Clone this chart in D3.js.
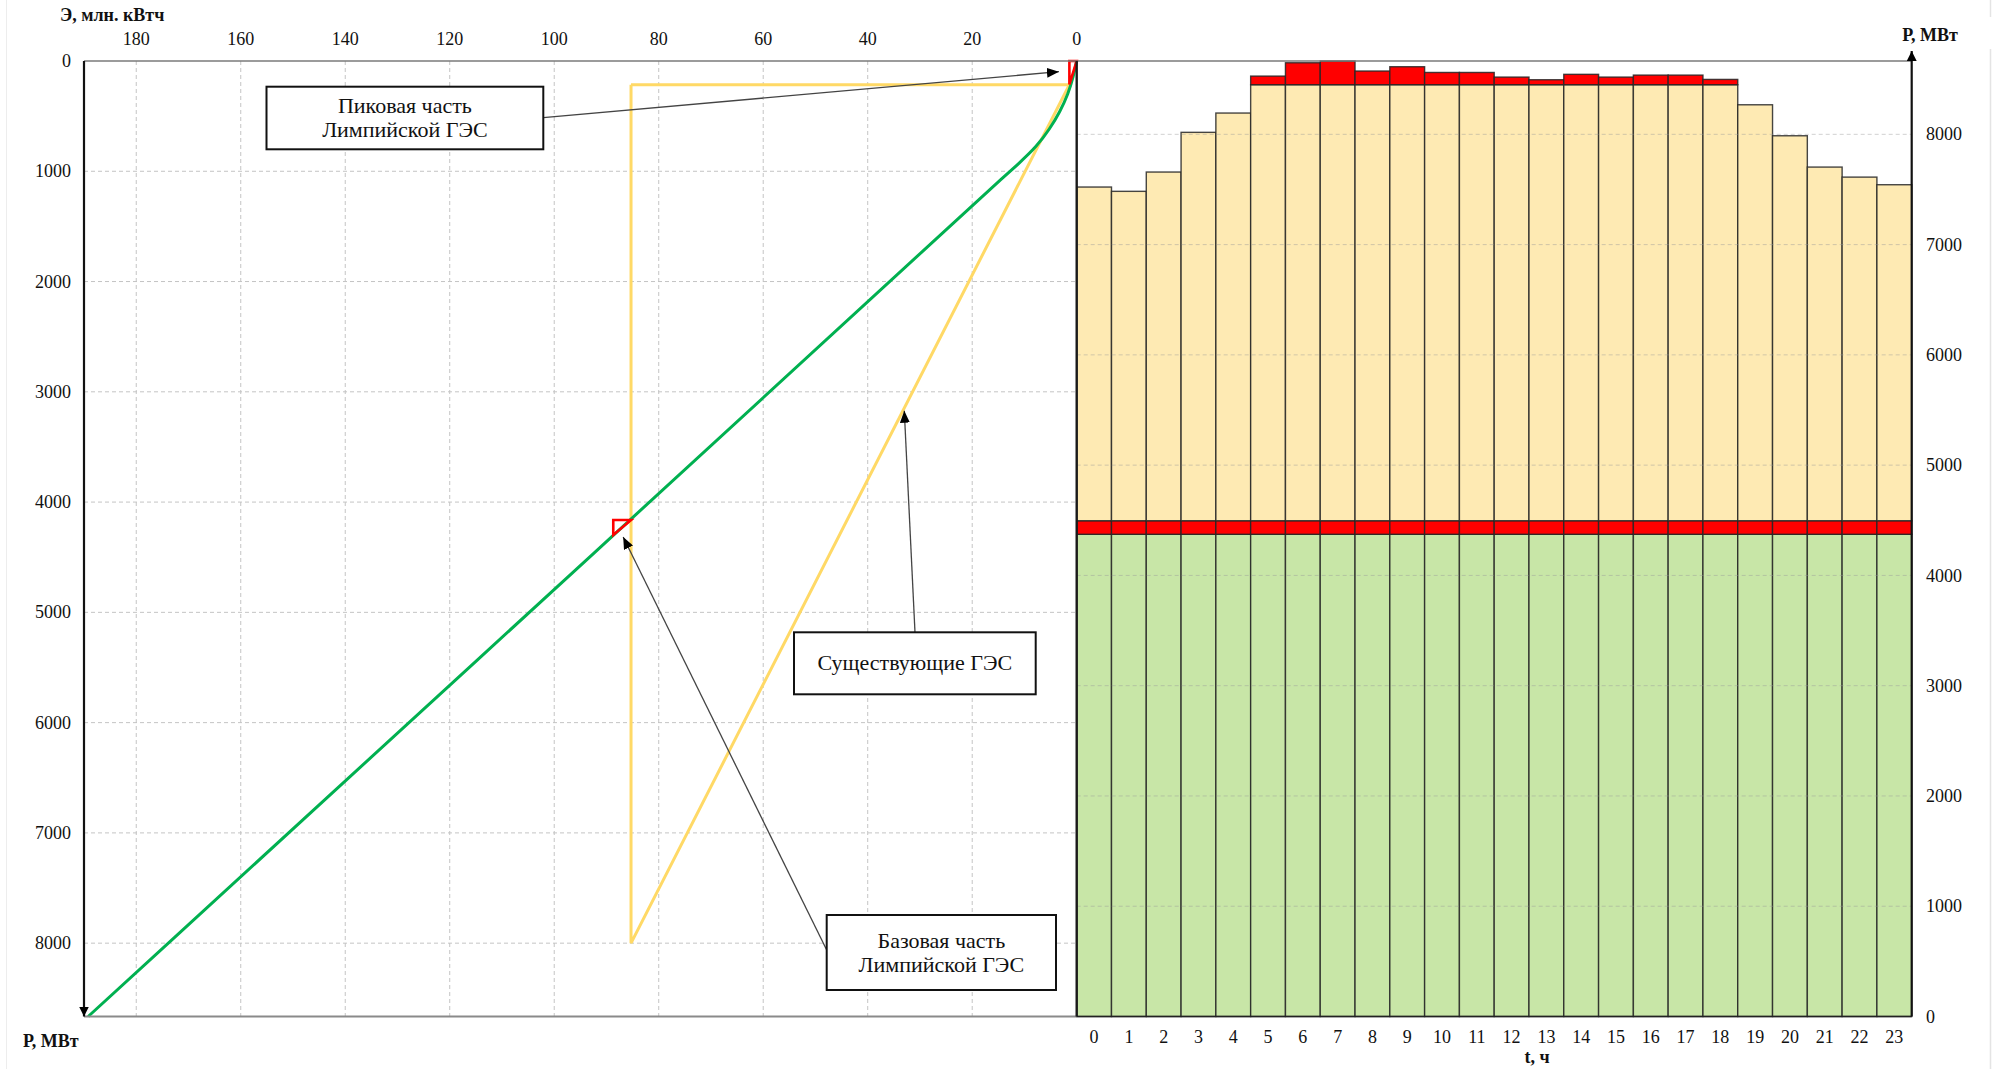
<!DOCTYPE html>
<html>
<head>
<meta charset="utf-8">
<script src="https://cdn.jsdelivr.net/npm/d3@7"></script>
<style>
  html, body { margin: 0; padding: 0; background: #fff; }
  svg { display: block; font-family: "Liberation Serif", "Times New Roman", serif; }
</style>
</head>
<body>
<svg id="chart" width="2004" height="1069"></svg>
<script>
// ---- Data ---------------------------------------------------------------
// Hours of the day
const hours = [0, 1, 2, 3, 4, 5, 6, 7, 8, 9, 10, 11, 12, 13, 14, 15, 16, 17, 18, 19, 20, 21, 22, 23];
// Hourly load of the system, МВт
const load = [7522, 7483, 7658, 8018, 8193, 8528, 8649, 8664, 8574, 8613, 8561, 8561,
              8519, 8495, 8544, 8519, 8537, 8537, 8498, 8268, 7987, 7703, 7612, 7543];
// Load zone boundaries, МВт
const thermalTop = 4373;   // upper edge of the green (other plants) zone
const baseTop = 4496;      // upper edge of the base part of Лимпийская ГЭС
const peakCap = 8450;      // level above which Лимпийская ГЭС covers the peak
const pMax = 8665;         // top of the power scale

// Axis ticks
const energyTicks = [180, 160, 140, 120, 100, 80, 60, 40, 20, 0];
const powerTicks = [0, 1000, 2000, 3000, 4000, 5000, 6000, 7000, 8000];

// Integral load curve: [Э, млн. кВтч ; P, МВт from the top]
const iknCurve = [[0, 0], [0.65, 142], [1.6, 294], [3.2, 460], [5.1, 612], [7.7, 779],
                  [11.1, 930], [14.3, 1066], [18.9, 1264], [86.8, 4221], [189.2, 8665]];
// Existing hydro plants working zone
const existingHPP = [[85.3, 215], [1.4, 215], [85.3, 8000], [85.3, 215]];
// Peak and base parts of Лимпийская ГЭС on the integral curve
const peakTriangle = [[0, 0], [1.4, 0], [1.4, 213], [0, 0]];
const baseTriangle = [[85.3, 4162], [88.7, 4162], [88.7, 4298], [85.3, 4162]];

// ---- Layout -------------------------------------------------------------
const plotL = 84, plotMid = 1076.7, plotR = 1911.7, plotT = 61, plotB = 1016.5;

const colors = {
  green: "#c8e6a7", yellow: "#feeab3", red: "#ff0000",
  curve: "#00b050", hpp: "#ffd966", grid: "#c4c4c4"
};

const svg = d3.select("#chart");

const xE = d3.scaleLinear().domain([190, 0]).range([plotL, plotMid]);
const yDown = d3.scaleLinear().domain([0, pMax]).range([plotT, plotB]);
const yUp = d3.scaleLinear().domain([0, pMax]).range([plotB, plotT]);
const xH = d3.scaleBand().domain(hours).range([plotMid, plotR]).padding(0);

// markers
const defs = svg.append("defs");
defs.append("marker").attr("id", "tip")
  .attr("markerUnits", "userSpaceOnUse")
  .attr("viewBox", "0 0 12 10").attr("refX", 12).attr("refY", 5)
  .attr("markerWidth", 12).attr("markerHeight", 10).attr("orient", "auto")
  .append("path").attr("d", "M0,0 L12,5 L0,10 Z").attr("fill", "#000");
defs.append("marker").attr("id", "axisTip")
  .attr("markerUnits", "userSpaceOnUse")
  .attr("viewBox", "0 0 10 10").attr("refX", 10).attr("refY", 5)
  .attr("markerWidth", 10).attr("markerHeight", 10).attr("orient", "auto")
  .append("path").attr("d", "M0,0 L10,5 L0,10 Z").attr("fill", "#000");

// faint frame edges
svg.append("line").attr("x1", 6.5).attr("x2", 6.5).attr("y1", 0).attr("y2", 1069)
  .attr("stroke", "#ededed").attr("stroke-width", 1);
svg.append("line").attr("x1", 1990.5).attr("x2", 1990.5).attr("y1", 0).attr("y2", 17)
  .attr("stroke", "#e4e4e4").attr("stroke-width", 1.5);
svg.append("line").attr("x1", 1990.5).attr("x2", 1990.5).attr("y1", 49).attr("y2", 1069)
  .attr("stroke", "#e4e4e4").attr("stroke-width", 1.5);

// ---- Left panel grid ----------------------------------------------------
const gridL = svg.append("g").attr("stroke", colors.grid).attr("stroke-width", 1)
  .attr("stroke-dasharray", "4,3");
gridL.selectAll("line.v").data(energyTicks.filter(d => d > 0)).join("line")
  .attr("class", "v")
  .attr("x1", d => xE(d)).attr("x2", d => xE(d))
  .attr("y1", plotT).attr("y2", plotB);
gridL.selectAll("line.h").data(powerTicks.filter(d => d > 0)).join("line")
  .attr("class", "h")
  .attr("x1", plotL).attr("x2", plotMid)
  .attr("y1", d => yDown(d)).attr("y2", d => yDown(d));

// ---- Right panel: stacked hourly bars -----------------------------------
const segments = hours.flatMap((h, i) => {
  const v = load[i];
  const s = [
    { h, y0: 0, y1: thermalTop, fill: colors.green },
    { h, y0: thermalTop, y1: baseTop, fill: colors.red },
    { h, y0: baseTop, y1: Math.min(v, peakCap), fill: colors.yellow }
  ];
  if (v > peakCap) s.push({ h, y0: peakCap, y1: v, fill: colors.red });
  return s;
});
svg.append("g").selectAll("rect").data(segments).join("rect")
  .attr("x", d => xH(d.h))
  .attr("width", xH.bandwidth())
  .attr("y", d => yUp(d.y1))
  .attr("height", d => yUp(d.y0) - yUp(d.y1))
  .attr("fill", d => d.fill)
  .attr("stroke", "#262626").attr("stroke-width", 1.4).attr("stroke-opacity", 0.85);

// right grid drawn over the bars
svg.append("g").attr("stroke", "#9a9a9a").attr("stroke-opacity", 0.45)
  .attr("stroke-width", 1).attr("stroke-dasharray", "4,3")
  .selectAll("line").data(powerTicks.filter(d => d > 0)).join("line")
  .attr("x1", plotMid).attr("x2", plotR)
  .attr("y1", d => yUp(d)).attr("y2", d => yUp(d));

// ---- Left panel curves --------------------------------------------------
const lineE = d3.line().x(d => xE(d[0])).y(d => yDown(d[1]));
const curveE = d3.line().x(d => xE(d[0])).y(d => yDown(d[1])).curve(d3.curveBasis);

svg.append("path").datum(existingHPP)
  .attr("d", lineE).attr("fill", "none")
  .attr("stroke", colors.hpp).attr("stroke-width", 3).attr("stroke-linejoin", "miter");

svg.append("path").datum(iknCurve)
  .attr("d", curveE).attr("fill", "none")
  .attr("stroke", colors.curve).attr("stroke-width", 3);

[peakTriangle, baseTriangle].forEach(tri => {
  svg.append("path").datum(tri)
    .attr("d", d => lineE(d) + "Z").attr("fill", "none")
    .attr("stroke", colors.red).attr("stroke-width", 2.6).attr("stroke-linejoin", "miter");
});

// ---- Axes frame ---------------------------------------------------------
svg.append("line").attr("x1", plotL).attr("x2", plotR).attr("y1", plotT).attr("y2", plotT)
  .attr("stroke", "#7a7a7a").attr("stroke-width", 1.6);
svg.append("line").attr("x1", plotL).attr("x2", plotMid).attr("y1", plotB).attr("y2", plotB)
  .attr("stroke", "#8a8a8a").attr("stroke-width", 2);
svg.append("line").attr("x1", plotMid).attr("x2", plotR).attr("y1", plotB).attr("y2", plotB)
  .attr("stroke", "#222").attr("stroke-width", 1.6);
// left power axis, arrow pointing down
svg.append("line").attr("x1", plotL).attr("x2", plotL).attr("y1", plotT).attr("y2", plotB)
  .attr("stroke", "#111").attr("stroke-width", 2.2).attr("marker-end", "url(#axisTip)");
// divider between panels
svg.append("line").attr("x1", plotMid).attr("x2", plotMid).attr("y1", plotT).attr("y2", plotB)
  .attr("stroke", "#1a1a1a").attr("stroke-width", 2.4);
// right power axis, arrow pointing up
svg.append("line").attr("x1", plotR).attr("x2", plotR).attr("y1", plotB).attr("y2", plotT - 10)
  .attr("stroke", "#111").attr("stroke-width", 2.2).attr("marker-end", "url(#axisTip)");

// ---- Tick labels --------------------------------------------------------
const tickFont = 18;
svg.append("g").attr("font-size", tickFont).attr("text-anchor", "middle").attr("fill", "#111")
  .selectAll("text").data(energyTicks).join("text")
  .attr("x", d => xE(d)).attr("y", 45).text(d => d);

svg.append("g").attr("font-size", tickFont).attr("text-anchor", "end").attr("fill", "#111")
  .selectAll("text").data(powerTicks).join("text")
  .attr("x", 71).attr("y", d => yDown(d)).attr("dy", "0.34em").text(d => d);

svg.append("g").attr("font-size", tickFont).attr("text-anchor", "start").attr("fill", "#111")
  .selectAll("text").data(powerTicks).join("text")
  .attr("x", 1926).attr("y", d => yUp(d)).attr("dy", "0.34em").text(d => d);

svg.append("g").attr("font-size", tickFont).attr("text-anchor", "middle").attr("fill", "#111")
  .selectAll("text").data(hours).join("text")
  .attr("x", d => xH(d) + xH.bandwidth() / 2).attr("y", 1043).text(d => d);

// axis titles
const titles = [
  { t: "Э, млн. кВтч", x: 60, y: 21, anchor: "start" },
  { t: "Р, МВт", x: 1930, y: 41, anchor: "middle" },
  { t: "Р, МВт", x: 23, y: 1047, anchor: "start" },
  { t: "t, ч", x: 1537, y: 1063, anchor: "middle" }
];
svg.append("g").attr("font-size", 18).attr("font-weight", "bold").attr("fill", "#111")
  .selectAll("text").data(titles).join("text")
  .attr("x", d => d.x).attr("y", d => d.y).attr("text-anchor", d => d.anchor)
  .text(d => d.t);

// ---- Callouts -----------------------------------------------------------
const callouts = [
  { lines: ["Пиковая часть", "Лимпийской ГЭС"], box: [266.5, 86.7, 276.8, 62.6],
    from: [543.3, 117.7], to: [xE(3.4), yDown(97)], base: [113.3, 136.7] },
  { lines: ["Существующие ГЭС"], box: [794, 632.3, 241.7, 62],
    from: [915, 632.3], to: [xE(33.0), yDown(3171)], base: [670] },
  { lines: ["Базовая часть", "Лимпийской ГЭС"], box: [826.7, 915, 229.3, 75],
    from: [826.7, 950], to: [xE(86.8), yDown(4316)], base: [948.3, 971.7] }
];
const cg = svg.append("g");
callouts.forEach(c => {
  cg.append("line")
    .attr("x1", c.from[0]).attr("y1", c.from[1]).attr("x2", c.to[0]).attr("y2", c.to[1])
    .attr("stroke", "#444").attr("stroke-width", 1.3).attr("marker-end", "url(#tip)");
  cg.append("rect")
    .attr("x", c.box[0]).attr("y", c.box[1]).attr("width", c.box[2]).attr("height", c.box[3])
    .attr("fill", "#fff").attr("stroke", "#111").attr("stroke-width", 2);
  c.lines.forEach((l, i) => {
    cg.append("text")
      .attr("x", c.box[0] + c.box[2] / 2).attr("y", c.base[i])
      .attr("text-anchor", "middle").attr("font-size", 22).attr("fill", "#111")
      .text(l);
  });
});
</script>
</body>
</html>
